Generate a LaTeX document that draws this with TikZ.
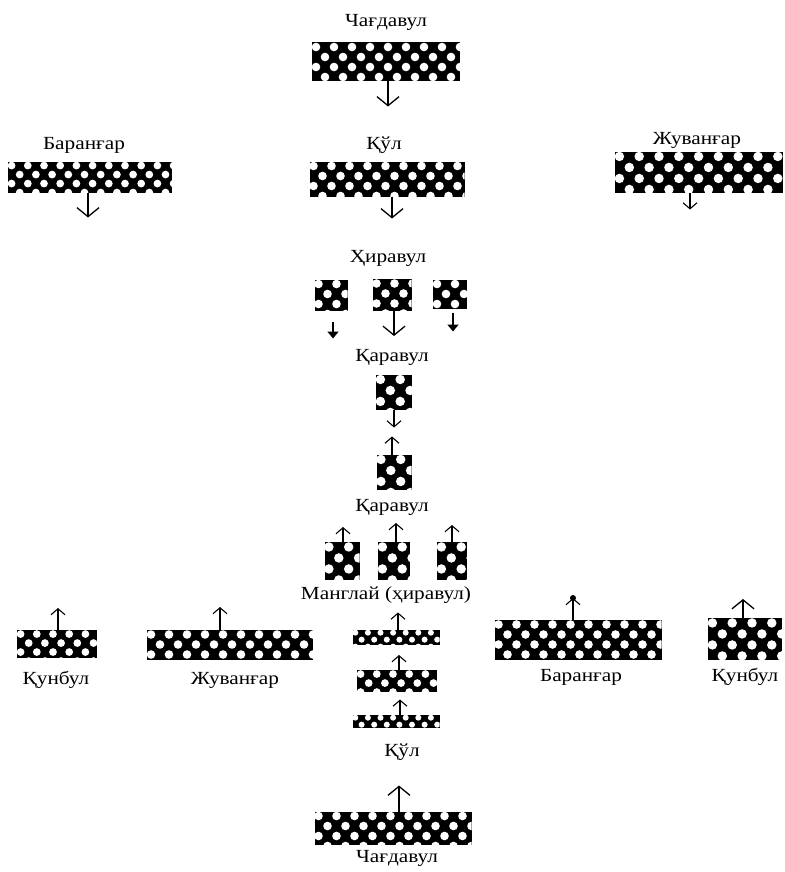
\documentclass[tikz,border=0pt]{standalone}
\usepackage{fontspec}
\setmainfont{Liberation Serif}[FakeStretch=1.15]
\usetikzlibrary{arrows.meta}

\tikzset{
	dotblock/.style={fill=black, inner sep=0pt, outer sep=0pt,
		path picture={
			\foreach \j in {0,...,5}
			\foreach \i in {0,...,24}
			\fill[white] ([shift={({(\i+0.5*mod(\j,2))*1.8*#1+0.4*#1},{(\j+0.45)*#1})}]path picture bounding box.north west) circle ({0.43*#1});
		}},
	lbl/.style={inner sep=0pt, font=\fontsize{18.5}{20}\selectfont},
	march/.style={line width=1.3pt, -{Straight Barb[length=9pt,width=22pt]}},
	marchs/.style={line width=1.1pt, -{Straight Barb[length=6pt,width=14pt]}},
	heavy/.style={line width=2.6pt, -{Triangle[length=7pt,width=11pt]}},
}

\begin{document}
\begin{tikzpicture}[x=1pt, y=-1pt]
		\useasboundingbox (0,0) rectangle (784,872);
		
		%%%%% REAR %%%%%
		\node[lbl] (chagTopL) at (386,22) {Чағдавул};
		\node[dotblock=10, minimum width=148pt, minimum height=39pt] (chagTop) at (386,62) {};
		\draw[march] ([xshift=2pt]chagTop.south) -- ++(0,25);
		
		\node[lbl] (baranTopL) at (84,145) {Баранғар};
		\node[dotblock=9, minimum width=164pt, minimum height=31pt] (baranTop) at (90,177) {};
		\draw[march] ([xshift=-2pt]baranTop.south) -- ++(0,25);
		
		\node[lbl] (qulTopL) at (384,145) {Қўл};
		\node[dotblock=10, minimum width=155pt, minimum height=35pt] (qulTop) at (387,179) {};
		\draw[march] ([xshift=5pt]qulTop.south) -- ++(0,22);
		
		\node[lbl] (juvTopL) at (697,140) {Жуванғар};
		\node[dotblock=11, minimum width=168pt, minimum height=41pt] (juvTop) at (699,172) {};
		\draw[marchs] ([xshift=-9pt]juvTop.south) -- ++(0,17);
		
		%%%%% HIRAVUL %%%%%
		\node[lbl] (hirL) at (388,258) {Ҳиравул};
		\node[dotblock=10, minimum width=33pt, minimum height=31pt] (hirA) at (331,295) {};
		\node[dotblock=10, minimum width=39pt, minimum height=32pt] (hirB) at (392,295) {};
		\node[dotblock=10, minimum width=34pt, minimum height=29pt] (hirC) at (450,294) {};
		\draw[heavy] ([xshift=2pt,yshift=-11pt]hirA.south) -- ++(0,17);
		\draw[march] ([xshift=2pt]hirB.south) -- ++(0,25);
		\draw[heavy] ([xshift=3pt,yshift=-4pt]hirC.south) -- ++(0,19);
		
		\node[lbl] (qarTopL) at (392,357) {Қаравул};
		\node[dotblock=11, minimum width=36pt, minimum height=35pt] (qarD) at (394,392) {};
		\draw[marchs] (qarD.south) -- ++(0,18);
		
		%%%%% FRONT %%%%%
		\node[dotblock=11, minimum width=35pt, minimum height=35pt] (qarE) at (394,472) {};
		\draw[marchs] ([xshift=-2pt]qarE.north) -- ++(0,-18);
		\node[lbl] (qarBotL) at (392,507) {Қаравул};
		
		\node[dotblock=11, minimum width=35pt, minimum height=38pt] (manF) at (342,561) {};
		\node[dotblock=11, minimum width=32pt, minimum height=38pt] (manG) at (394,561) {};
		\node[dotblock=11, minimum width=30pt, minimum height=38pt] (manH) at (452,561) {};
		\draw[marchs] ([xshift=1pt]manF.north) -- ++(0,-15);
		\draw[marchs] ([xshift=2pt]manG.north) -- ++(0,-19);
		\draw[marchs] (manH.north) -- ++(0,-17);
		\node[lbl] (manL) at (386,595) {Манглай (ҳиравул)};
		
		\node[dotblock=9, minimum width=80pt, minimum height=28pt] (qunLeft) at (57,644) {};
		\draw[marchs] ([xshift=1pt]qunLeft.north) -- ++(0,-22);
		\node[lbl] (qunLeftL) at (56,680) {Қунбул};
		
		\node[dotblock=10, minimum width=166pt, minimum height=30pt] (juvBot) at (230,645) {};
		\draw[marchs] ([xshift=-10pt]juvBot.north) -- ++(0,-23);
		\node[lbl] (juvBotL) at (235,680) {Жуванғар};
		
		\node[dotblock=7, minimum width=87pt, minimum height=15pt] (qulA) at (396,637) {};
		\node[dotblock=9, minimum width=80pt, minimum height=22pt] (qulB) at (397,681) {};
		\node[dotblock=7, minimum width=87pt, minimum height=13pt] (qulC) at (396,721) {};
		\draw[marchs] ([xshift=2pt]qulA.north) -- ++(0,-17);
		\draw[marchs] ([xshift=2pt]qulB.north) -- ++(0,-15);
		\draw[marchs] ([xshift=4pt]qulC.north) -- ++(0,-15);
		\node[lbl] (qulBotL) at (402,752) {Қўл};
		
		\node[dotblock=10, minimum width=167pt, minimum height=40pt] (baranBot) at (578,640) {};
		\draw[marchs] ([xshift=-5pt]baranBot.north) -- ++(0,-22) coordinate (baranTip);
		\fill (baranTip) circle (3);
		\node[lbl] (baranBotL) at (581,677) {Баранғар};
		
		\node[dotblock=11, minimum width=74pt, minimum height=42pt] (qunRight) at (745,639) {};
		\draw[march] ([xshift=-2pt]qunRight.north) -- ++(0,-19);
		\node[lbl] (qunRightL) at (745,677) {Қунбул};
		
		\node[dotblock=10, minimum width=157pt, minimum height=33pt] (chagBot) at (393,828) {};
		\draw[march] ([xshift=6pt]chagBot.north) -- ++(0,-26);
		\node[lbl] (chagBotL) at (397,858) {Чағдавул};
		
\end{tikzpicture}
\end{document}
